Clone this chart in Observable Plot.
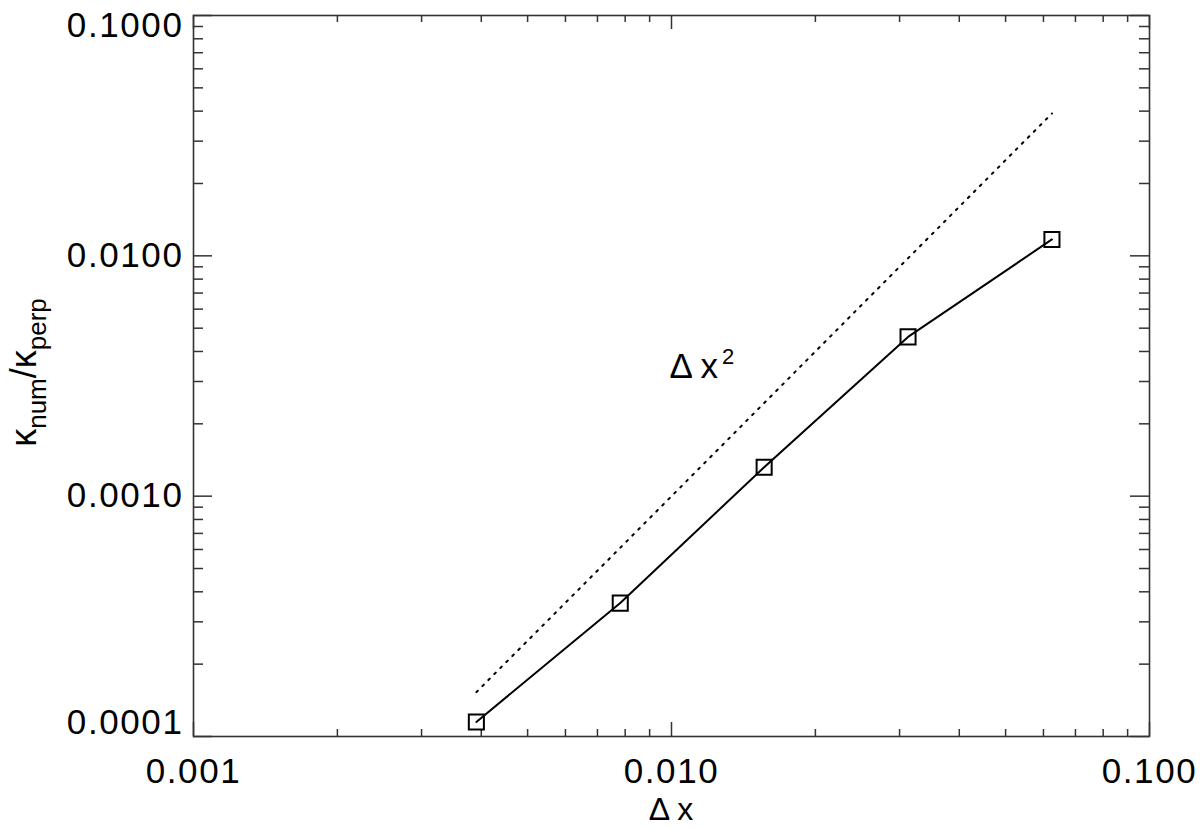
<!DOCTYPE html>
<html><head><meta charset="utf-8">
<script src="https://cdn.jsdelivr.net/npm/d3@7"></script>
<script src="https://cdn.jsdelivr.net/npm/@observablehq/plot@0.6"></script>
<style>
body{margin:0;background:#fff}
g[aria-label$="tick label"] text{letter-spacing:1.6px}
</style>
</head><body><div id="chart"></div>
<script>
// Data
const dx = [1/256, 1/128, 1/64, 1/32, 1/16];
const kappaRatio = [0.000115, 0.000359, 0.00132, 0.0046, 0.0117];
const dx2Ref = [0.000153, 0.00061, 0.00244, 0.00977, 0.0391];
const xTicks = [0.001, 0.01, 0.1];
const yTicks = [0.0001, 0.001, 0.01, 0.1];
const xMinor = [0.002,0.003,0.004,0.005,0.006,0.007,0.008,0.009,0.02,0.03,0.04,0.05,0.06,0.07,0.08,0.09];
const yMinor = [0.0002,0.0003,0.0004,0.0005,0.0006,0.0007,0.0008,0.0009,0.002,0.003,0.004,0.005,0.006,0.007,0.008,0.009,0.02,0.03,0.04,0.05,0.06,0.07,0.08,0.09];
const annot = [{x: 0.0099, y: 0.00345, text: "Δ x"}];

const W = 1200, H = 828;
const mL = 193, mR = 51, mT = 15, mB = 92;
const pw = W - mL - mR, ph = H - mT - mB;
const idx = d3.range(dx.length);
const tickColor = "#333";
const FONT = "'Liberation Sans', Arial, Helvetica, sans-serif";

const plot = Plot.plot({
  width: W, height: H,
  marginLeft: mL, marginRight: mR, marginTop: mT, marginBottom: mB,
  style: {fontFamily: FONT, background: "#fff", color: "#000"},
  x: {type: "log", domain: [0.001, 0.1], axis: null},
  y: {type: "log", domain: [0.0001, 0.1], axis: null},
  marks: [
    Plot.frame({stroke: tickColor, strokeWidth: 1.6}),
    // x ticks bottom / top
    Plot.tickX(xTicks, {x: d => d, insetTop: ph - 14, stroke: tickColor, strokeWidth: 1.5}),
    Plot.tickX(xTicks, {x: d => d, insetBottom: ph - 14, stroke: tickColor, strokeWidth: 1.5}),
    Plot.tickX(xMinor, {x: d => d, insetTop: ph - 7, stroke: tickColor, strokeWidth: 1.5}),
    Plot.tickX(xMinor, {x: d => d, insetBottom: ph - 7, stroke: tickColor, strokeWidth: 1.5}),
    // y ticks left / right
    Plot.tickY(yTicks, {y: d => d, insetRight: pw - 19, stroke: tickColor, strokeWidth: 1.5}),
    Plot.tickY(yTicks, {y: d => d, insetLeft: pw - 19, stroke: tickColor, strokeWidth: 1.5}),
    Plot.tickY(yMinor, {y: d => d, insetRight: pw - 10, stroke: tickColor, strokeWidth: 1.5}),
    Plot.tickY(yMinor, {y: d => d, insetLeft: pw - 10, stroke: tickColor, strokeWidth: 1.5}),
    // dotted reference line
    Plot.line(idx, {x: i => dx[i], y: i => dx2Ref[i], stroke: "#000", strokeWidth: 2, strokeDasharray: "2 6.5", strokeLinecap: "round"}),
    // data line and squares
    Plot.line(idx, {x: i => dx[i], y: i => kappaRatio[i], stroke: "#000", strokeWidth: 2}),
    Plot.dot(idx, {x: i => dx[i], y: i => kappaRatio[i], symbol: "square", r: 8.5, stroke: "#000", strokeWidth: 2, fill: "none"}),
    Plot.text(annot, {x: "x", y: "y", text: "text", textAnchor: "start", fontSize: 35, fill: "#000"}),
    // axes labels
    Plot.axisX(xTicks, {anchor: "bottom", tickSize: 0, tickPadding: 22, tickFormat: d3.format(".3f"), fontSize: 35, label: null, fill: "#000"}),
    Plot.axisY([0.01, 0.001], {anchor: "left", tickSize: 0, tickPadding: 10, tickFormat: d3.format(".4f"), fontSize: 35, label: null, fill: "#000"}),
    Plot.axisY([0.1], {anchor: "left", tickSize: 0, tickPadding: 10, tickFormat: d3.format(".4f"), fontSize: 35, label: null, dy: 10, fill: "#000"}),
    Plot.axisY([0.0001], {anchor: "left", tickSize: 0, tickPadding: 10, tickFormat: d3.format(".4f"), fontSize: 35, label: null, dy: -14, fill: "#000"})
  ]
});

const svg = d3.select(plot);
// superscript on the annotation
svg.selectAll('g[aria-label="text"] text').each(function () {
  d3.select(this).append("tspan").attr("font-size", 22).attr("dx", 4).attr("dy", -14).text("2");
});
// x title
svg.append("text")
  .attr("x", mL + pw / 2).attr("y", 820)
  .attr("text-anchor", "middle")
  .attr("font-size", 32).attr("fill", "#000")
  .attr("font-family", FONT)
  .text("Δ x");
// y title with subscripts
const yt = svg.append("text")
  .attr("transform", `translate(36, ${mT + ph / 2 - 3}) rotate(-90)`)
  .attr("text-anchor", "middle")
  .attr("font-size", 36).attr("fill", "#000")
  .attr("font-family", FONT);
yt.append("tspan").text("κ");
yt.append("tspan").attr("font-size", 26).attr("dy", 10).text("num");
yt.append("tspan").attr("dy", -10).text("/κ");
yt.append("tspan").attr("font-size", 26).attr("dy", 10).text("perp");

document.getElementById("chart").appendChild(plot);
</script>
</body></html>
